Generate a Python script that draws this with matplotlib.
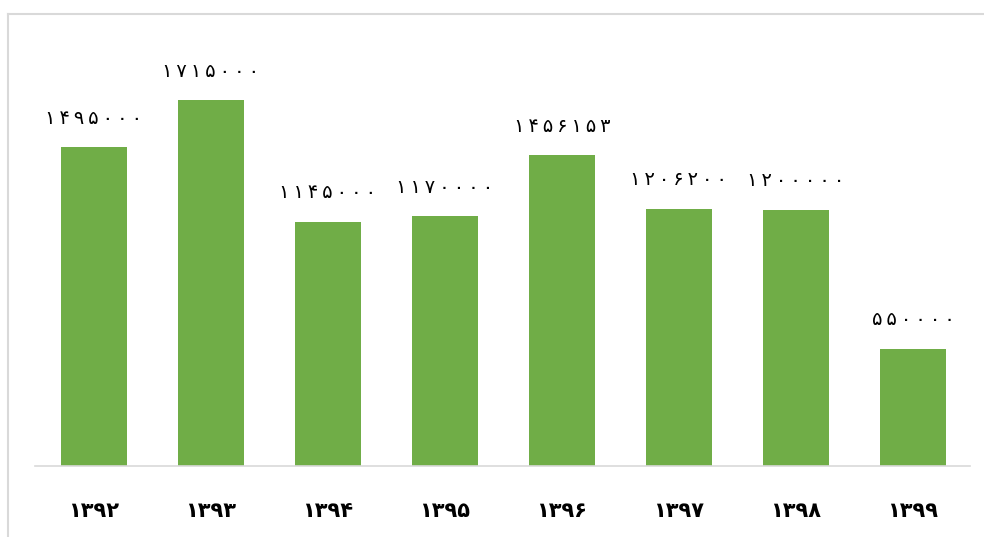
import matplotlib
matplotlib.use("Agg")
import matplotlib.pyplot as plt
from matplotlib.lines import Line2D

years = ["1392", "1393", "1394", "1395", "1396", "1397", "1398", "1399"]
values = [1495000, 1715000, 1145000, 1170000, 1456153, 1206200, 1200000, 550000]

FA = str.maketrans("0123456789", "۰۱۲۳۴۵۶۷۸۹")
def fa(s):
    return str(s).translate(FA)

def spaced(s):
    return "\u2009".join(fa(s))

plt.rcParams['font.family'] = ['DejaVu Sans']

W, H = 984, 537
fig = plt.figure(figsize=(W / 100, H / 100), dpi=100)
fig.patch.set_facecolor("white")

# chart border (left and top edges visible)
border = "#d9d9d9"
fig.add_artist(Line2D([7.5 / W, 7.5 / W], [0, (H - 13.5) / H], transform=fig.transFigure,
                      color=border, linewidth=1.5))
fig.add_artist(Line2D([7.5 / W, 1], [(H - 13.5) / H, (H - 13.5) / H], transform=fig.transFigure,
                      color=border, linewidth=1.5))

left, right = 35, 970
bottom, top = 466, 13
ax = fig.add_axes([left / W, (H - bottom) / H, (right - left) / W, (bottom - top) / H])
x = list(range(len(years)))
ax.bar(x, values, width=0.565, color="#70ad47", zorder=2)
ax.set_xlim((left - 94) / 117, (right - 94) / 117)
ax.set_ylim(0, 2122700)

for s in ["left", "right", "top"]:
    ax.spines[s].set_visible(False)
ax.spines["bottom"].set_color(border)
ax.spines["bottom"].set_linewidth(1.2)
ax.set_yticks([])
ax.set_xticks(x)
ax.set_xticklabels([fa(y) for y in years], fontsize=15, fontweight="bold", color="black")
ax.tick_params(axis="x", length=0, pad=25)

for xi, v in zip(x, values):
    ax.annotate(spaced(v), (xi, v), xytext=(0, 14), textcoords="offset points",
                ha="center", va="bottom", fontsize=14, color="black")

fig.savefig("out.png", dpi=100, facecolor="white")
